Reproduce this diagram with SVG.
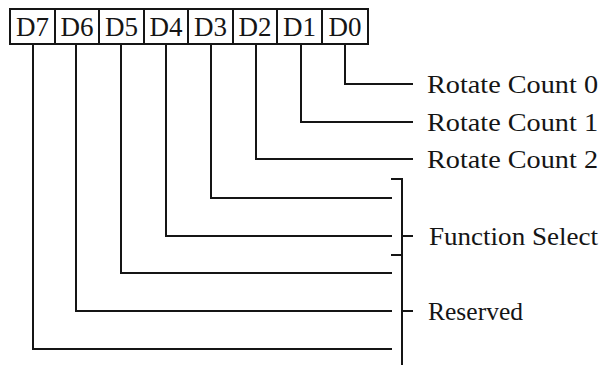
<svg xmlns="http://www.w3.org/2000/svg" width="608" height="365" viewBox="0 0 608 365">
<style>
.box{fill:#fff;stroke:#151515;stroke-width:2}
.bit{font-family:"Liberation Serif","Times New Roman",serif;font-size:27px;fill:#151515;text-anchor:middle}
.lbl{font-family:"Liberation Serif","Times New Roman",serif;font-size:26px;fill:#151515}
.ln{fill:none;stroke:#151515;stroke-width:2;stroke-linecap:square;stroke-linejoin:miter}
</style>
<rect width="608" height="365" fill="#fff"/>
<g id="register">
<g id="D7"><rect class="box" x="10" y="9" width="45" height="35"/><text class="bit" x="32.5" y="36">D7</text></g>
<g id="D6"><rect class="box" x="55" y="9" width="44" height="35"/><text class="bit" x="77" y="36">D6</text></g>
<g id="D5"><rect class="box" x="99" y="9" width="45" height="35"/><text class="bit" x="121.5" y="36">D5</text></g>
<g id="D4"><rect class="box" x="144" y="9" width="44" height="35"/><text class="bit" x="166" y="36">D4</text></g>
<g id="D3"><rect class="box" x="188" y="9" width="45" height="35"/><text class="bit" x="210.5" y="36">D3</text></g>
<g id="D2"><rect class="box" x="233" y="9" width="44" height="35"/><text class="bit" x="255" y="36">D2</text></g>
<g id="D1"><rect class="box" x="277" y="9" width="45" height="35"/><text class="bit" x="299.5" y="36">D1</text></g>
<g id="D0"><rect class="box" x="322" y="9" width="46" height="35"/><text class="bit" x="345" y="36">D0</text></g>
</g>
<g id="connectors">
<path class="ln" d="M345 44V84H412"/>
<path class="ln" d="M301 44V122H412"/>
<path class="ln" d="M256 44V159H412"/>
<path class="ln" d="M211 44V198H391"/>
<path class="ln" d="M166 44V236H391"/>
<path class="ln" d="M121 44V273H391"/>
<path class="ln" d="M76 44V311H391"/>
<path class="ln" d="M33 44V349H391"/>
<path class="ln" d="M392 179H402V366"/>
<path class="ln" d="M402 236H412"/>
<path class="ln" d="M392 255H402"/>
<path class="ln" d="M402 311H412"/>
</g>
<g id="labels">
<text class="lbl" x="427" y="93" textLength="171" lengthAdjust="spacingAndGlyphs">Rotate Count 0</text>
<text class="lbl" x="427" y="131" textLength="171" lengthAdjust="spacingAndGlyphs">Rotate Count 1</text>
<text class="lbl" x="427" y="168" textLength="171" lengthAdjust="spacingAndGlyphs">Rotate Count 2</text>
<text class="lbl" x="429" y="245" textLength="169" lengthAdjust="spacingAndGlyphs">Function Select</text>
<text class="lbl" x="428" y="320" textLength="95" lengthAdjust="spacingAndGlyphs">Reserved</text>
</g>
</svg>
